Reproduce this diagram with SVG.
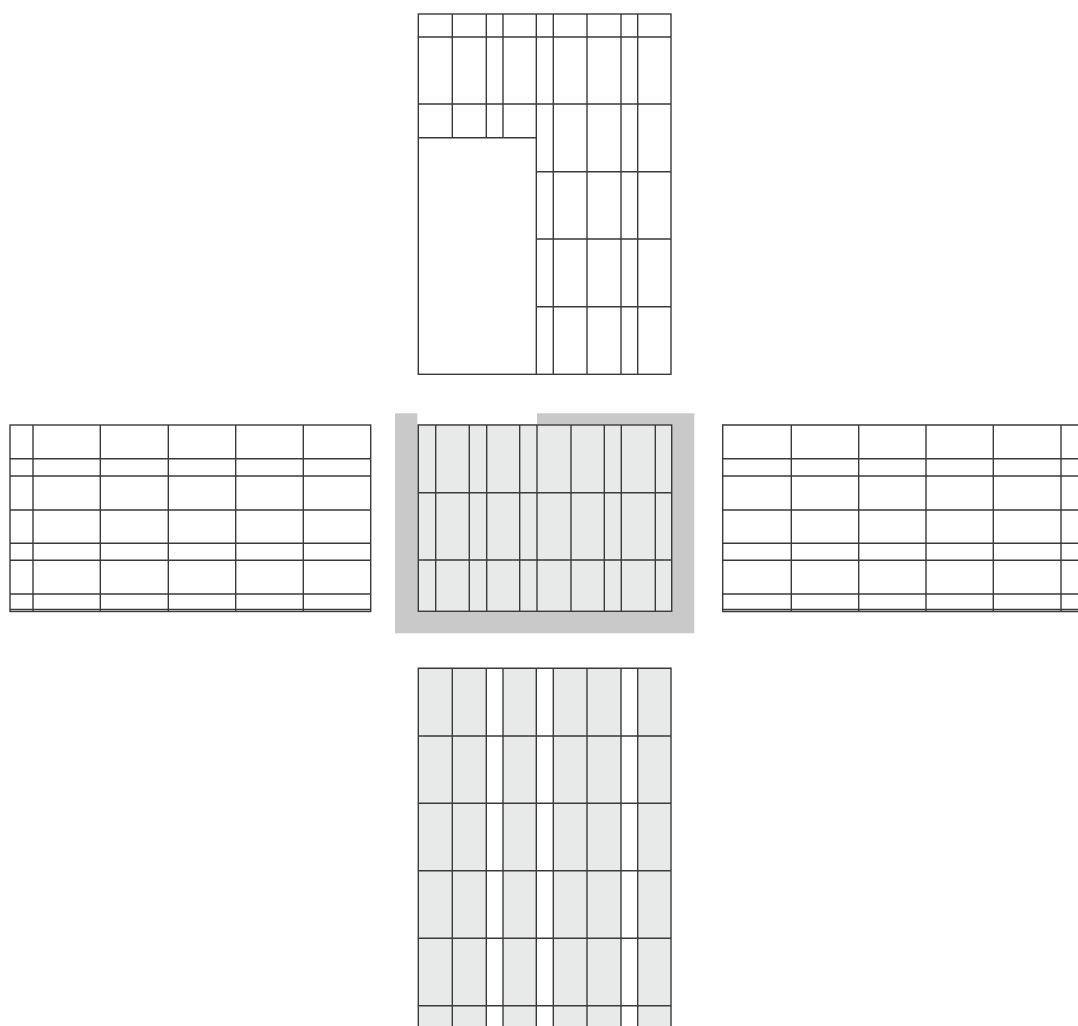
<svg xmlns="http://www.w3.org/2000/svg" width="1078" height="1026" viewBox="0 0 1078 1026">
<style>
.ln{stroke:#3a3a3a;stroke-width:1.4;fill:none}
.cell{fill:#e8eaea}
.wall{fill:#c8c9c8}
</style>
<rect width="1078" height="1026" fill="#ffffff"/>
<g id="top-wall">
<rect class="ln" x="418.3" y="14" width="252.7" height="360.3"/>
<path class="ln" d="M418.3 37H671M418.3 104H671M418.3 137.7H536.3M536.3 171.7H671M536.3 239H671M536.3 306.7H671"/>
<path class="ln" d="M452.3 14V137.7M486.3 14V137.7M503 14V137.7M536.3 14V374.3M553.3 14V374.3M587 14V374.3M621 14V374.3M637.7 14V374.3"/>
</g>
<g id="floor">
<rect class="wall" x="395" y="413.3" width="299.3" height="220"/>
<rect fill="#ffffff" x="417.3" y="413" width="119.7" height="11"/>
<rect class="cell" x="418.3" y="425" width="253.4" height="186.3"/>
<rect class="ln" x="418.3" y="425" width="253.4" height="186.3"/>
<path class="ln" d="M418.3 492.7H671.7M418.3 560H671.7"/>
<path class="ln" d="M435.7 425V611.3M469.3 425V611.3M486.7 425V611.3M519.7 425V611.3M537 425V611.3M571 425V611.3M604.3 425V611.3M621.3 425V611.3M655.3 425V611.3"/>
</g>
<g id="left-wall">
<rect class="ln" x="10" y="425" width="360.7" height="186.5"/>
<path class="ln" d="M10 458.7H370.7M10 476H370.7M10 510H370.7M10 543.3H370.7M10 560.3H370.7M10 594H370.7M10 609.5H370.7"/>
<path class="ln" d="M33 425V611.5M100.3 425V611.5M168.3 425V611.5M235.7 425V611.5M303.3 425V611.5"/>
</g>
<g id="right-wall">
<path class="ln" d="M1078 425H722.7V611.5H1078"/>
<path class="ln" d="M722.7 458.7H1078M722.7 476H1078M722.7 510H1078M722.7 543.3H1078M722.7 560.3H1078M722.7 594H1078M722.7 609.5H1078"/>
<path class="ln" d="M791.3 425V611.5M858.7 425V611.5M926 425V611.5M993.3 425V611.5M1061 425V611.5"/>
</g>
<g id="bottom-wall">
<rect class="cell" x="418.3" y="668.3" width="68" height="357.7"/>
<rect class="cell" x="503" y="668.3" width="33.3" height="357.7"/>
<rect class="cell" x="553.3" y="668.3" width="67.7" height="357.7"/>
<rect class="cell" x="637.7" y="668.3" width="33.3" height="357.7"/>
<path class="ln" d="M418.3 1026V668.3H671V1026"/>
<path class="ln" d="M418.3 736H671M418.3 803.3H671M418.3 870.7H671M418.3 938.3H671M418.3 1005.7H671"/>
<path class="ln" d="M452.3 668.3V1026M486.3 668.3V1026M503 668.3V1026M536.3 668.3V1026M553.3 668.3V1026M587 668.3V1026M621 668.3V1026M637.7 668.3V1026"/>
</g>
<g id="connectors"/>
</svg>
